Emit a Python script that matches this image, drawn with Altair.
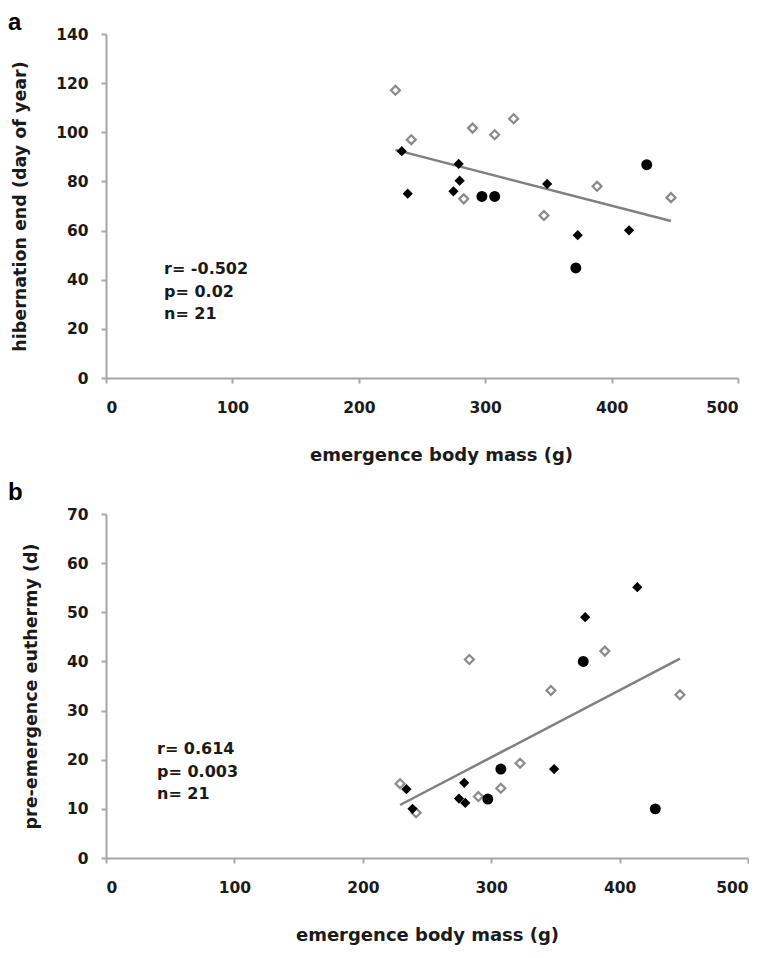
import altair as alt
import pandas as pd

# ---- values ----
group = (["open"] * 9) + (["diamond"] * 8) + (["circle"] * 4)
mass = [229.0, 241.5, 283.0, 290.0, 307.5, 322.5, 346.5, 388.5, 447.0,
        234.0, 238.7, 274.9, 279.0, 279.8, 349.0, 373.2, 413.8,
        297.4, 307.5, 371.7, 427.8]
hib_end = [117.1, 97.0, 72.9, 101.7, 99.0, 105.5, 66.1, 78.0, 73.4,
           92.3, 75.0, 76.0, 87.1, 80.3, 79.0, 58.1, 60.1,
           73.9, 73.9, 44.8, 86.8]
euthermy = [15.1, 9.2, 40.4, 12.5, 14.2, 19.3, 34.1, 42.1, 33.2,
            14.0, 10.0, 12.1, 15.3, 11.2, 18.1, 49.0, 55.1,
            12.0, 18.1, 40.0, 10.0]
stats_a = ["r= -0.502", "p= 0.02", "n= 21"]
stats_b = ["r= 0.614", "p= 0.003", "n= 21"]
x_ticks = [0, 100, 200, 300, 400, 500]
y_ticks_a = [0, 20, 40, 60, 80, 100, 120, 140]
y_ticks_b = [0, 10, 20, 30, 40, 50, 60, 70]

df = pd.DataFrame({"group": group, "mass": mass, "hib": hib_end, "eu": euthermy})

FONT = "DejaVu Sans"
AXC = "#a6a6a6"
TXT = "#1a1a1a"


def panel(field, ytitle, ymax, yticks, letter, letter_y, stats, stats_x, w,
          xtitle_x):
    base = alt.Chart(df)
    xenc = alt.X("mass:Q",
                 scale=alt.Scale(domain=[0, 500], nice=False),
                 axis=alt.Axis(values=x_ticks, title="emergence body mass (g)",
                               labelPadding=17, titlePadding=31,
                               titleFontSize=18, titleX=xtitle_x))
    yenc = alt.Y(f"{field}:Q",
                 scale=alt.Scale(domain=[0, ymax], nice=False),
                 axis=alt.Axis(values=yticks, title=ytitle,
                               labelPadding=13, titlePadding=26,
                               titleFontSize=17.5))
    trend = base.transform_regression("mass", field).mark_line(
        color="#808080", strokeWidth=2.5).encode(x=xenc, y=yenc)
    open_pts = base.transform_filter(alt.datum.group == "open").mark_point(
        shape="diamond", filled=True, fill="white", stroke="#8a8a8a",
        strokeWidth=2.2, size=80, opacity=1).encode(x=xenc, y=yenc)
    dia_pts = base.transform_filter(alt.datum.group == "diamond").mark_point(
        shape="diamond", filled=True, color="black", size=105,
        opacity=1).encode(x=xenc, y=yenc)
    circ_pts = base.transform_filter(alt.datum.group == "circle").mark_point(
        shape="circle", filled=True, color="black", size=120,
        opacity=1).encode(x=xenc, y=yenc)
    one = pd.DataFrame({"k": [0]})
    letter_mark = alt.Chart(one).mark_text(
        align="left", baseline="alphabetic", font="Liberation Sans",
        fontSize=24, fontWeight="bold", color="black").encode(
        x=alt.value(-98), y=alt.value(letter_y), text=alt.value(letter))
    stats_mark = alt.Chart(one).mark_text(
        align="left", baseline="top", font=FONT, fontSize=16,
        fontWeight="bold", color=TXT, lineHeight=22.5).encode(
        x=alt.value(stats_x), y=alt.value(227), text=alt.value(stats))
    return alt.layer(trend, open_pts, dia_pts, circ_pts, letter_mark,
                     stats_mark).properties(width=w, height=344)


pa = panel("hib", "hibernation end (day of year)", 140, y_ticks_a,
           "a", -4, stats_a, 58, 632, 335)
pb = panel("eu", "pre-emergence euthermy (d)", 70, y_ticks_b,
           "b", -14, stats_b, 51, 642, 321)

chart = alt.vconcat(pa, pb, spacing=16).properties(
    padding={"top": 3, "left": 0, "right": 0, "bottom": 0},
    background="white"
).configure_view(stroke=None).configure_axis(
    grid=False,
    domainColor=AXC, domainWidth=2,
    tickColor=AXC, tickWidth=2, tickSize=5,
    labelFont=FONT, labelFontSize=15.5, labelFontWeight="bold", labelColor=TXT,
    titleFont=FONT, titleFontWeight="bold", titleColor=TXT,
)

chart.save("out.html", embed_options={"renderer": "svg", "actions": False})
